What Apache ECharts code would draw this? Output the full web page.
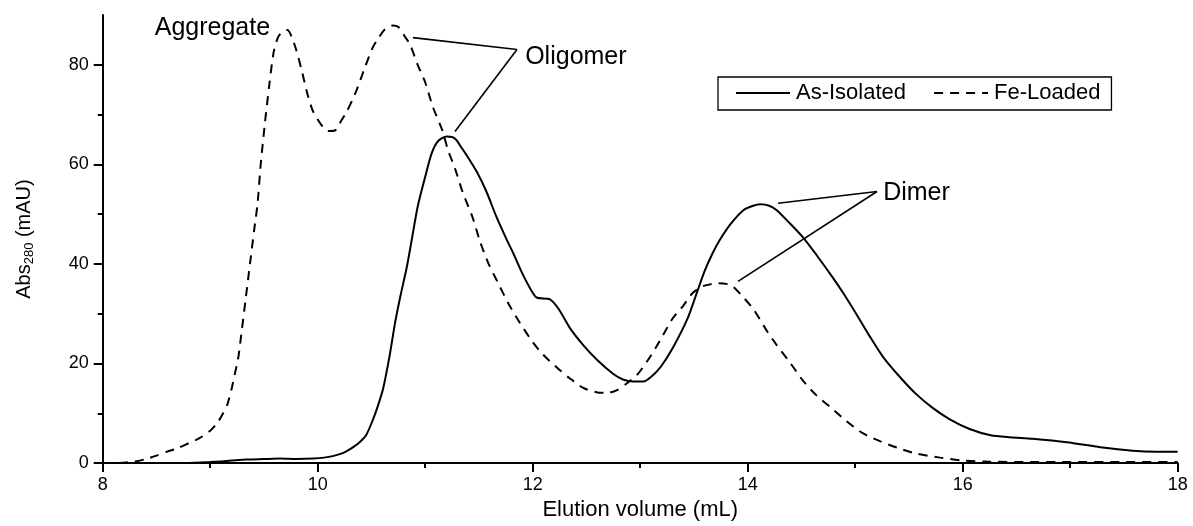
<!DOCTYPE html>
<html>
<head>
<meta charset="utf-8">
<script src="https://cdn.jsdelivr.net/npm/echarts@6/dist/echarts.min.js"></script>
<style>
  html, body { margin: 0; padding: 0; background: #fff; }
  #chart { width: 1193px; height: 526px; }
</style>
</head>
<body>
<div id="chart"></div>
<script>
// x = elution volume (mL), y = Abs280 (mAU)
let asIsolated = [
    [8.8, 0], [9.0, 0.2], [9.2, 0.5], [9.34, 0.7], [9.5, 0.8], [9.65, 0.9], [9.8, 0.8], [9.96, 0.9],
    [10.06, 1.1], [10.14, 1.4], [10.22, 1.9], [10.27, 2.4], [10.33, 3.2], [10.39, 4.2], [10.45, 5.6],
    [10.51, 8.5], [10.56, 11.5], [10.61, 15.1], [10.67, 21.7], [10.72, 28.2], [10.77, 33.6], [10.83, 39.5],
    [10.88, 45.5], [10.93, 51.5], [11.0, 57.5], [11.06, 62.2], [11.12, 64.7], [11.2, 65.6], [11.25, 65.5],
    [11.29, 64.9], [11.33, 63.6], [11.38, 62], [11.48, 58.5], [11.57, 54.5], [11.66, 49.6], [11.76, 44.8],
    [11.82, 42.1], [11.91, 37.8], [12.0, 34.2], [12.04, 33.2], [12.16, 32.9], [12.24, 31], [12.35, 27],
    [12.47, 23.7], [12.6, 20.7], [12.75, 17.9], [12.84, 16.8], [12.93, 16.4], [13.03, 16.4], [13.1, 17.3],
    [13.19, 19.3], [13.3, 23], [13.44, 29], [13.52, 33.8], [13.6, 38.6], [13.67, 42], [13.74, 44.8], [13.84, 48],
    [13.96, 50.8], [14.05, 51.7], [14.12, 52], [14.2, 51.7], [14.27, 50.8], [14.39, 48.2], [14.52, 45.2],
    [14.64, 41.8], [14.79, 37.3], [14.89, 34.1], [15.02, 29.6], [15.14, 25.3], [15.26, 21.3], [15.42, 17.2],
    [15.57, 13.8], [15.72, 11.1], [15.88, 8.8], [16.07, 6.8], [16.26, 5.6], [16.44, 5.2], [16.65, 4.9],
    [16.97, 4.2], [17.28, 3.2], [17.58, 2.5], [17.8, 2.3], [18, 2.3]
]
let feLoaded = [
    [8.15, 0], [8.3, 0.3], [8.4, 0.8], [8.5, 1.5], [8.6, 2.3], [8.7, 3.0], [8.8, 4.0], [8.9, 5.0],
    [9.0, 6.5], [9.07, 8.2], [9.12, 10], [9.16, 11.8], [9.2, 15], [9.23, 18], [9.26, 21], [9.29, 26],
    [9.33, 33], [9.37, 40], [9.41, 47], [9.44, 52], [9.47, 60], [9.51, 68.5], [9.55, 76], [9.59, 82.5],
    [9.63, 85.5], [9.67, 86.6], [9.72, 87], [9.76, 85.5], [9.8, 83], [9.85, 79], [9.9, 74.5], [9.95, 71],
    [10.0, 69], [10.05, 67.5], [10.1, 66.7], [10.16, 66.8], [10.22, 68.8], [10.27, 70.6], [10.32, 72.8],
    [10.36, 74.8], [10.44, 79.5], [10.51, 83.4], [10.57, 85.5], [10.62, 87], [10.7, 87.9], [10.75, 87.6],
    [10.81, 85.7], [10.86, 84], [10.93, 80], [11.0, 76.5], [11.07, 71.6], [11.16, 66.8], [11.21, 63],
    [11.28, 59], [11.35, 54.3], [11.44, 49.4], [11.51, 44.5], [11.59, 40], [11.68, 36.1], [11.77, 32.2],
    [11.88, 28.2], [12.0, 24.3], [12.1, 21.7], [12.23, 19.1], [12.34, 17.1], [12.47, 15.1], [12.6, 14.2],
    [12.69, 14.1], [12.78, 14.6], [12.88, 16.1], [12.97, 17.7], [13.06, 20.3], [13.14, 23], [13.21, 25.6],
    [13.3, 29], [13.4, 31.6], [13.49, 34.2], [13.58, 35.5], [13.65, 35.9], [13.72, 36.1], [13.8, 36],
    [13.86, 35.5], [13.93, 34], [14.05, 31], [14.18, 26.5], [14.27, 23.7], [14.39, 20.3], [14.52, 16.4],
    [14.64, 13.6], [14.77, 11.2], [14.92, 8.4], [15.07, 6.0], [15.23, 4.4], [15.39, 3.1], [15.57, 1.9],
    [15.79, 1.1], [16.0, 0.5], [16.22, 0.3], [16.6, 0.2], [17, 0.2], [17.5, 0.2], [18, 0.2]
]
let seriesNames = ['As-Isolated', 'Fe-Loaded']
let yMajorTicks = [0, 20, 40, 60, 80]
let yMinorTicks = [10, 30, 50, 70]
let xMinorTicks = [9, 11, 13, 15, 17]

// annotation pointers (data coords)
let oligomerLines = [[[10.886, 85.45], [11.854, 83.07]], [[11.854, 83.07], [11.277, 66.6]]]
let dimerLines = [[[14.282, 52.2], [15.203, 54.55]], [[15.203, 54.55], [13.91, 36.5]]]
let annotationTexts = [
    { name: 'Aggregate', coord: [9.557, 87.3], side: 'left' },
    { name: 'Oligomer', coord: [11.93, 81.5], side: 'right' },
    { name: 'Dimer', coord: [15.26, 54.2], side: 'right' }
]

let font = 'Liberation Sans, Arial, sans-serif'
let chart = echarts.init(document.getElementById('chart'))

let pointerData = oligomerLines.concat(dimerLines).map(function (l) {
    return [{ coord: l[0] }, { coord: l[1] }]
})
let textData = annotationTexts.map(function (t) {
    return {
        name: t.name, coord: t.coord, symbolSize: 0,
        label: { show: true, position: t.side, distance: 0, formatter: t.name, color: '#000', fontSize: 25, fontFamily: font }
    }
})

let tickStyle = { color: '#000', width: 2 }
let option = {
    animation: false,
    backgroundColor: '#fff',
    textStyle: { fontFamily: font },
    grid: { left: 102.7, right: 15.3, top: 15, bottom: 56.5 },
    legend: {
        data: seriesNames,
        left: 718, top: 77,
        orient: 'horizontal',
        borderColor: '#000', borderWidth: 1.3,
        padding: [5, 11, 6, 17],
        itemWidth: 54, itemHeight: 14, itemGap: 27,
        itemStyle: { opacity: 0 },
        textStyle: { color: '#000', fontSize: 22, fontFamily: font, padding: [0, 0, 0, 1] }
    },
    xAxis: [{
        type: 'value', min: 8, max: 18, interval: 2,
        name: 'Elution volume (mL)', nameLocation: 'middle', nameGap: 30,
        nameTextStyle: { color: '#000', fontSize: 22, fontFamily: font },
        axisLine: { lineStyle: { color: '#000', width: 2 } },
        axisTick: { inside: false, length: 9, lineStyle: tickStyle },
        axisLabel: { color: '#000', fontSize: 18, margin: 13, fontFamily: font },
        splitLine: { show: false }
    }, {
        type: 'value', min: 8, max: 18, position: 'bottom',
        axisLine: { show: false },
        axisTick: { show: true, inside: false, length: 5, customValues: xMinorTicks, lineStyle: tickStyle },
        axisLabel: { show: false },
        splitLine: { show: false }
    }],
    yAxis: [{
        type: 'value', min: 0, max: 90, position: 'left',
        name: 'Abs{sub|280} (mAU)', nameLocation: 'middle', nameGap: 67, nameRotate: 90,
        nameTextStyle: {
            color: '#000', fontSize: 20, fontFamily: font,
            rich: { sub: { fontSize: 13, fontFamily: font, color: '#000', padding: [9, 0, 0, 0] } }
        },
        axisLine: { show: true, lineStyle: { color: '#000', width: 2 } },
        axisTick: { show: true, length: 9, customValues: yMajorTicks, lineStyle: tickStyle },
        axisLabel: { color: '#000', fontSize: 18, margin: 14, fontFamily: font, customValues: yMajorTicks },
        splitLine: { show: false }
    }, {
        type: 'value', min: 0, max: 90, position: 'left',
        axisLine: { show: false },
        axisTick: { show: true, length: 5, customValues: yMinorTicks, lineStyle: tickStyle },
        axisLabel: { show: false },
        splitLine: { show: false }
    }],
    series: [{
        name: seriesNames[0],
        type: 'line',
        data: asIsolated,
        symbol: 'none',
        smooth: 0.25,
        lineStyle: { color: '#000', width: 2, type: 'solid' },
        itemStyle: { color: '#000' },
        z: 3,
        markLine: {
            silent: true, symbol: ['none', 'none'],
            lineStyle: { color: '#000', width: 1.6, type: 'solid' },
            label: { show: false },
            emphasis: { disabled: true },
            data: pointerData
        },
        markPoint: {
            silent: true, symbol: 'circle',
            itemStyle: { color: 'rgba(0,0,0,0)' },
            data: textData
        }
    }, {
        name: seriesNames[1],
        type: 'line',
        data: feLoaded,
        symbol: 'none',
        smooth: 0.25,
        lineStyle: { color: '#000', width: 2, type: [9, 7] },
        itemStyle: { color: '#000' },
        z: 2
    }]
}
chart.setOption(option)
</script>
</body>
</html>
